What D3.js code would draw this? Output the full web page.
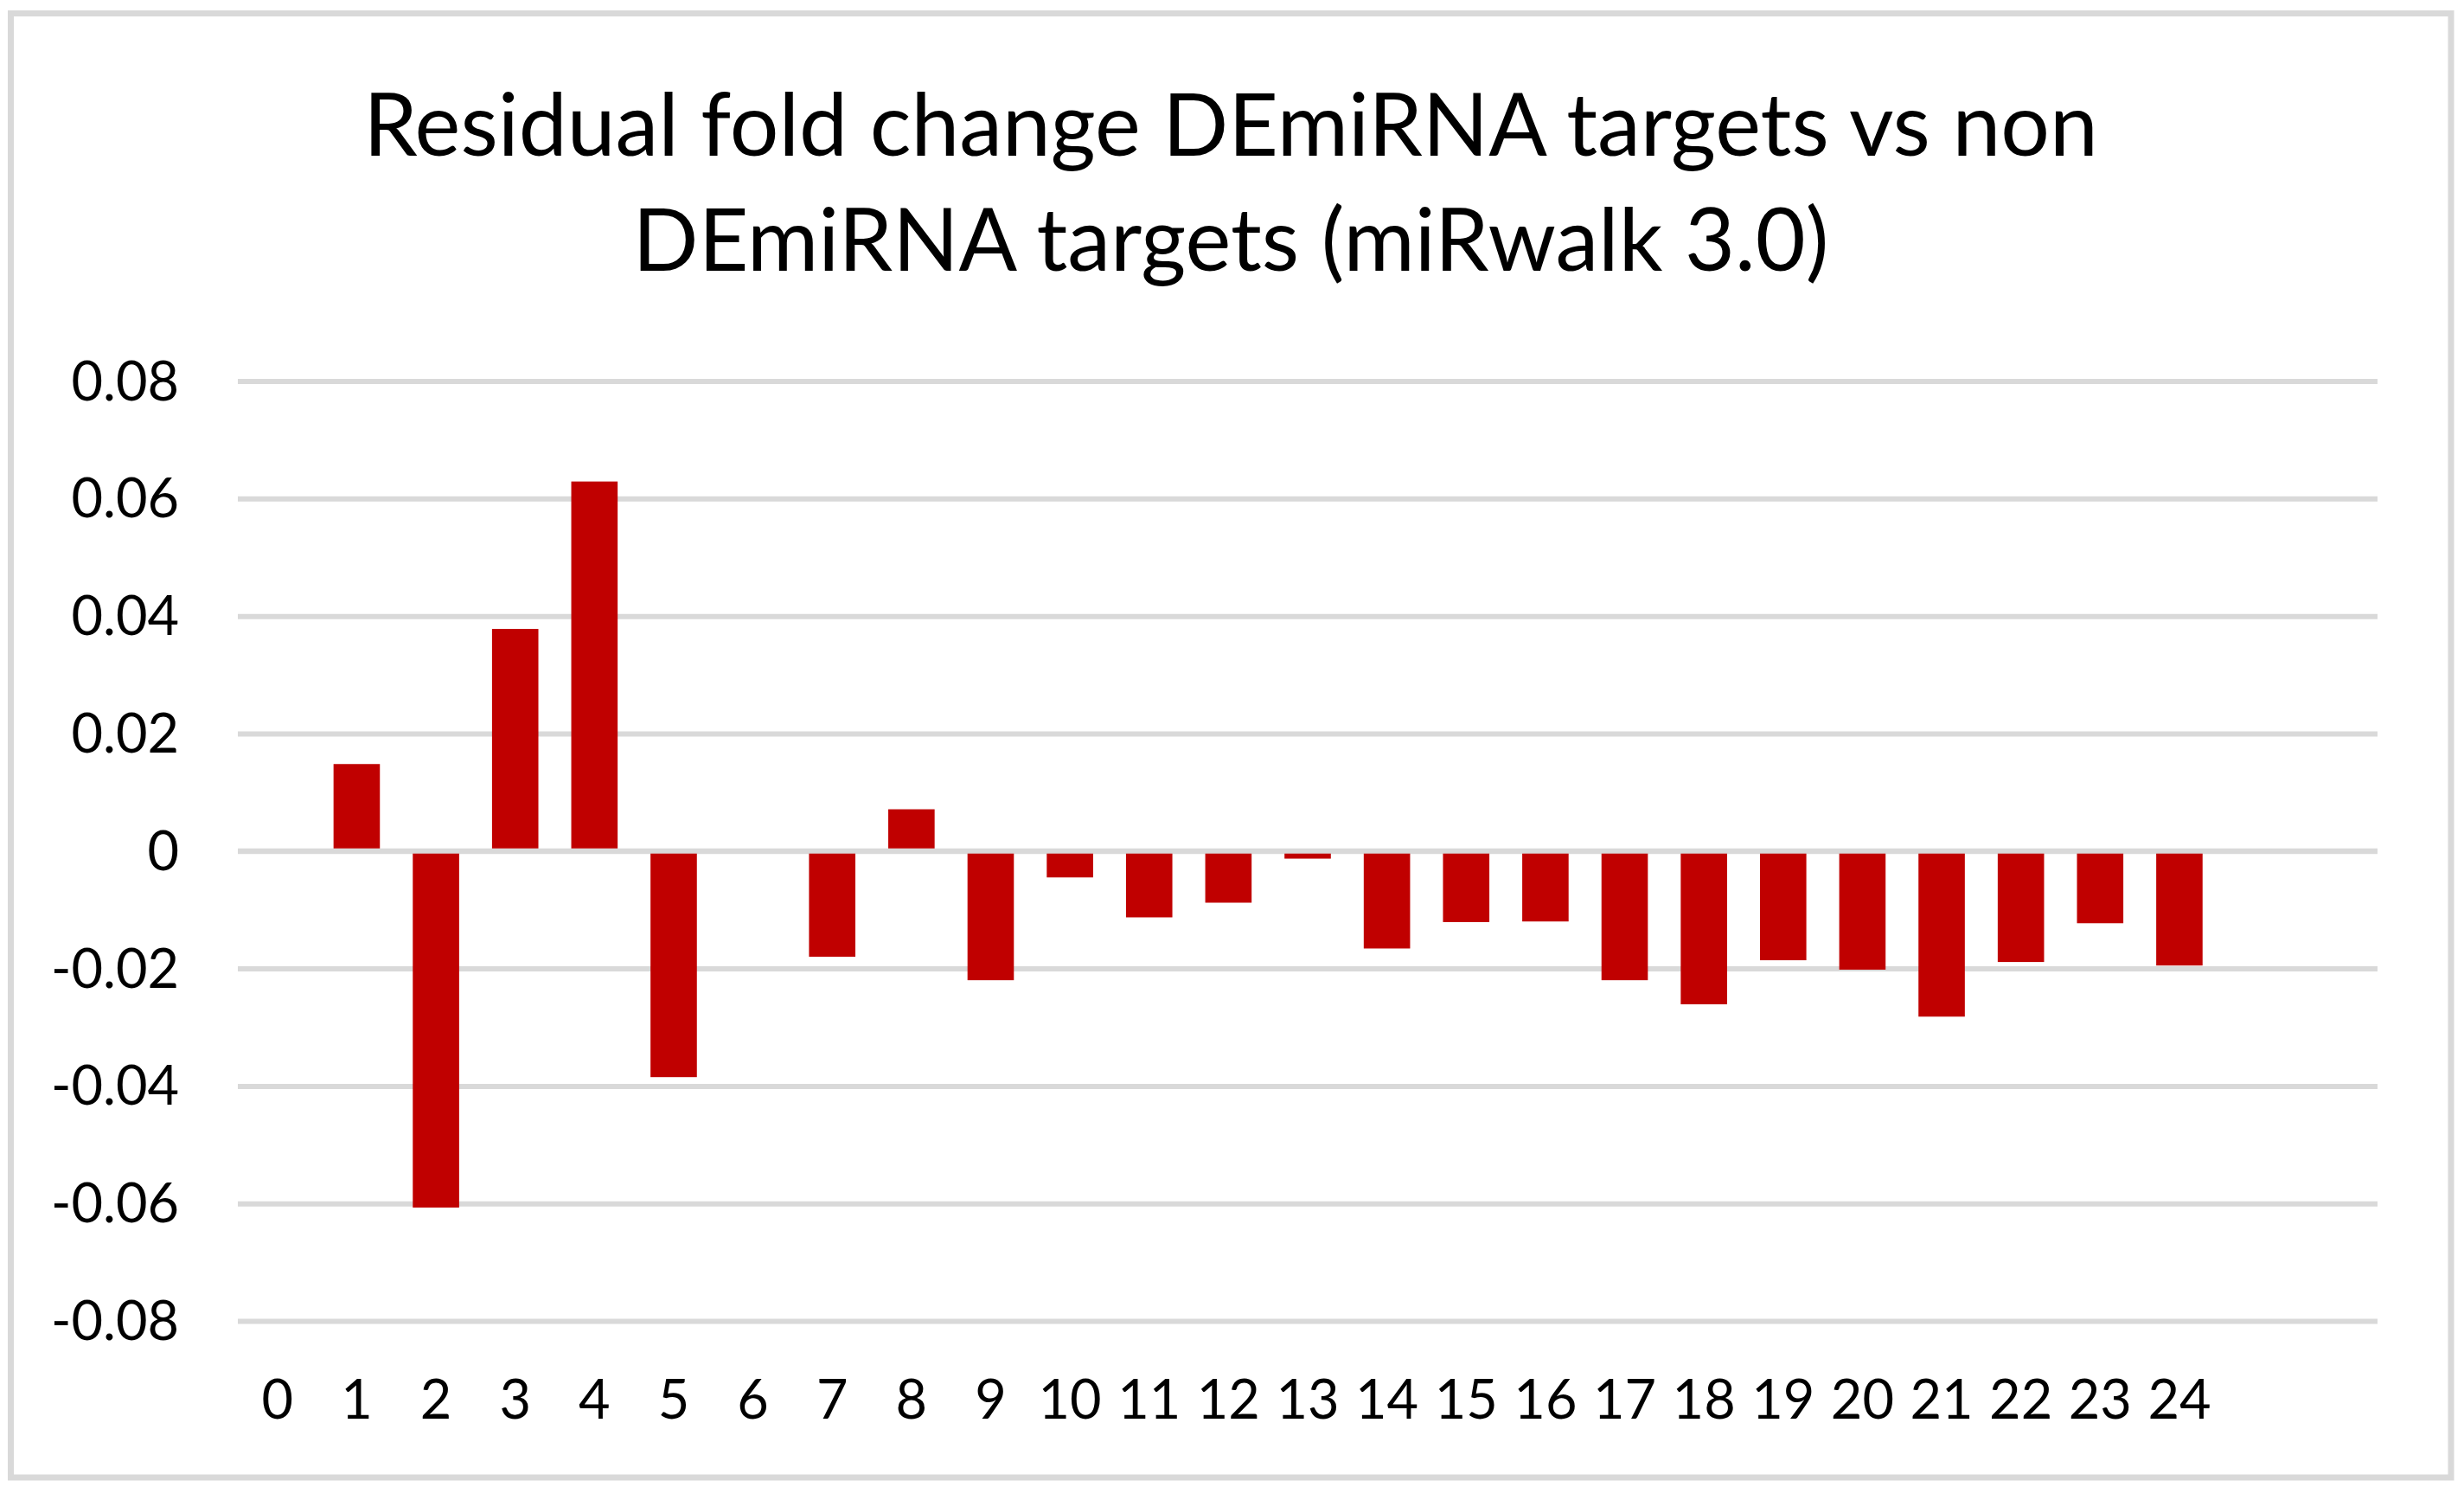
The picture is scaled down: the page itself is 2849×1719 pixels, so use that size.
<!DOCTYPE html>
<html>
<head>
<meta charset="utf-8">
<script src="https://cdn.jsdelivr.net/npm/d3@7"></script>
<style>
  body { margin: 0; background: #fff; }
  text { font-family: Lato, "Open Sans", sans-serif; fill: #000; }
</style>
</head>
<body>
<div id="chart-area"></div>
<script>
// chart data
const categories = ["0", "1", "2", "3", "4", "5", "6", "7", "8", "9", "10", "11", "12",
  "13", "14", "15", "16", "17", "18", "19", "20", "21", "22", "23", "24"]
const residuals = [null, 0.0148, -0.0607, 0.0378, 0.0629, -0.0385, null, -0.0180, 0.0071,
  -0.0220, -0.0045, -0.0113, -0.0088, -0.0013, -0.0166, -0.0121, -0.0120, -0.0220,
  -0.0261, -0.0186, -0.0202, -0.0282, -0.0189, -0.0123, -0.0195]
const yTicks = [-0.08, -0.06, -0.04, -0.02, 0, 0.02, 0.04, 0.06, 0.08]
const titleLines = ["Residual fold change DEmiRNA targets vs non", "DEmiRNA targets (miRwalk 3.0)"]

// canvas and plot sizes
const W = 2849
const H = 1719
const PLOT = { LEFT: 275, RIGHT: 2749, TOP: 440.5, BOTTOM: 1527 }
// excel leaves two empty slots after the last category
const EMPTY_SLOTS = 2
const GRID = "#d9d9d9"

const svg = d3.select("#chart-area").append("svg")
  .attr("width", W)
  .attr("height", H)

// outer chart border
svg.append("rect")
  .attr("x", 12.5)
  .attr("y", 15.5)
  .attr("width", 2834 - 12.5)
  .attr("height", 1708 - 15.5)
  .attr("fill", "#fff")
  .attr("stroke", GRID)
  .attr("stroke-width", 7)

// title, two lines
svg.append("text")
  .attr("text-anchor", "middle")
  .attr("font-size", "100px")
  .selectAll("tspan")
  .data(titleLines)
  .enter().append("tspan")
  .attr("x", 1423)
  .attr("y", (d, i) => 180 + i * 133)
  .text(d => d)

const x = d3.scaleBand()
  .domain(d3.range(categories.length + EMPTY_SLOTS))
  .range([PLOT.LEFT, PLOT.RIGHT])
  .paddingInner(0.415)
  .paddingOuter(0.2075)

const y = d3.scaleLinear()
  .domain([-0.08, 0.08])
  .range([PLOT.BOTTOM, PLOT.TOP])

// horizontal gridlines
const yAxisCall = d3.axisLeft(y)
  .tickValues(yTicks)
  .tickSize(-(PLOT.RIGHT - PLOT.LEFT))
  .tickFormat("")
svg.append("g")
  .attr("class", "grid")
  .attr("transform", `translate(${PLOT.LEFT}, 0)`)
  .call(yAxisCall)
  .call(g => g.select(".domain").remove())
  .selectAll("line")
  .attr("stroke", GRID)
  .attr("stroke-width", 6)

// y tick labels
svg.append("g")
  .selectAll("text")
  .data(yTicks)
  .enter().append("text")
  .attr("x", 207)
  .attr("y", d => y(d) + 22)
  .attr("text-anchor", "end")
  .attr("font-size", "63px")
  .text(d => String(d))

// bars
svg.append("g")
  .selectAll("rect")
  .data(residuals.map((v, i) => ({ i: i, v: v })).filter(d => d.v !== null))
  .enter().append("rect")
  .attr("x", d => x(d.i))
  .attr("width", x.bandwidth())
  .attr("y", d => y(Math.max(0, d.v)))
  .attr("height", d => Math.abs(y(d.v) - y(0)))
  .attr("fill", "#c00000")

// x axis sits on the zero line, over the bars
const xAxisCall = d3.axisBottom(x)
  .tickValues(d3.range(categories.length))
  .tickSize(0)
  .tickPadding(0)
  .tickFormat(i => categories[i])
const xAxisGroup = svg.append("g")
  .attr("transform", `translate(0, ${y(0)})`)
  .call(xAxisCall)
xAxisGroup.select(".domain")
  .attr("stroke", GRID)
  .attr("stroke-width", 6)
  .attr("d", `M${PLOT.LEFT},0H${PLOT.RIGHT}`)
xAxisGroup.selectAll("text")
  .attr("font-size", "63px")
  .attr("font-family", "Lato, sans-serif")
  .attr("fill", "#000")
  .attr("dy", null)
  .attr("y", 1640 - y(0))
</script>
</body>
</html>
